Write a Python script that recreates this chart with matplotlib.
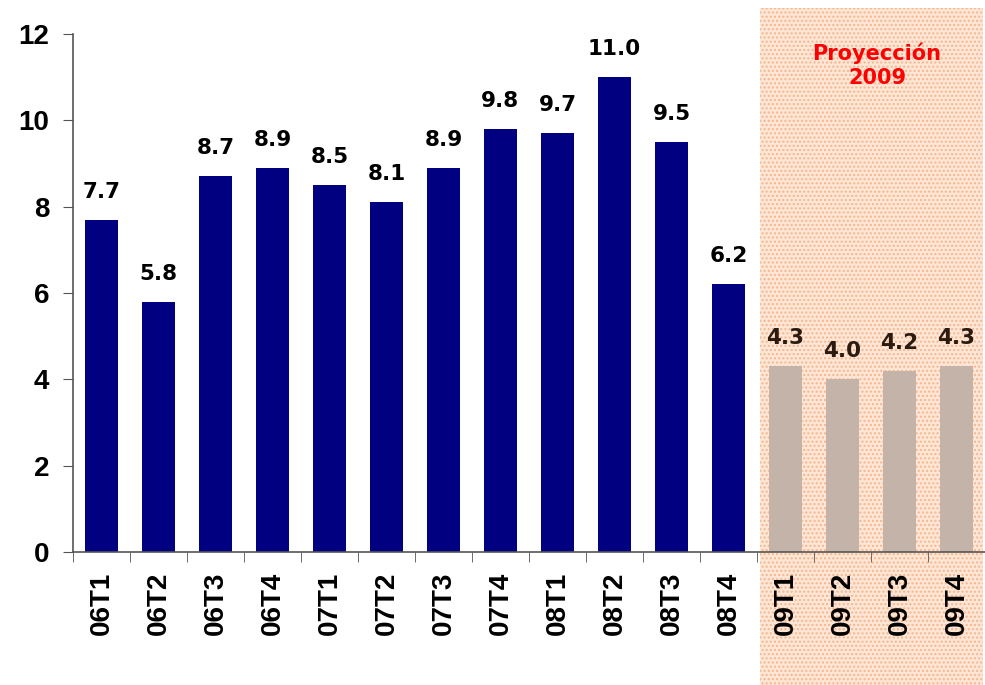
import matplotlib.pyplot as plt
from matplotlib.patches import Rectangle

# Quarterly data (historic + 2009 projection)
quarters = ['06T1', '06T2', '06T3', '06T4', '07T1', '07T2', '07T3', '07T4',
            '08T1', '08T2', '08T3', '08T4']
values = [7.7, 5.8, 8.7, 8.9, 8.5, 8.1, 8.9, 9.8, 9.7, 11.0, 9.5, 6.2]
proj_quarters = ['09T1', '09T2', '09T3', '09T4']
proj_values = [4.3, 4.0, 4.2, 4.3]
yticks = [0, 2, 4, 6, 8, 10, 12]

fig = plt.figure(figsize=(9.85, 6.85), dpi=100)
fig.patch.set_facecolor('white')

# shaded projection area (figure-level, covers the tick labels too)
shade = Rectangle((760 / 985, 0), 223 / 985, 1 - 8 / 685, transform=fig.transFigure,
                  facecolor='#fde6d6', edgecolor='#f7b58a', hatch='....',
                  linewidth=0, zorder=-1)
fig.patches.append(shade)

ax = fig.add_axes([73 / 985, 133 / 685, 912 / 985, 518 / 685])
ax.patch.set_visible(False)

labels = quarters + proj_quarters
x_hist = list(range(len(quarters)))
x_proj = list(range(len(quarters), len(labels)))

ax.bar(x_hist, values, width=0.58, color='#000080', zorder=2)
ax.bar(x_proj, proj_values, width=0.58, color='#c4b3a9', zorder=2)

for x, v in zip(x_hist, values):
    ax.annotate(f'{v:.1f}', (x, v), xytext=(0, 13), textcoords='offset points',
                ha='center', va='bottom', fontsize=15.5, fontweight='bold',
                family='DejaVu Sans', color='black')
for x, v in zip(x_proj, proj_values):
    ax.annotate(f'{v:.1f}', (x, v), xytext=(0, 13), textcoords='offset points',
                ha='center', va='bottom', fontsize=15.5, fontweight='bold',
                family='DejaVu Sans', color='#2a1a10')

ax.set_xlim(-0.5, len(labels) - 0.5)
ax.set_ylim(0, 12)
ax.set_yticks(yticks)
ax.set_yticklabels([str(t) for t in yticks], fontsize=20, fontweight='bold',
                   family='Liberation Sans')

ax.set_xticks(range(len(labels)))
ax.set_xticklabels(labels, rotation=90, fontsize=20, fontweight='bold',
                   family='Liberation Sans')
ax.set_xticks([i - 0.5 for i in range(len(labels))], minor=True)
ax.tick_params(axis='x', which='major', length=0, pad=14)
ax.tick_params(axis='x', which='minor', length=7, color='#555555', direction='out')
ax.tick_params(axis='y', length=7, color='#555555', direction='out', pad=10)

for side in ['top', 'right']:
    ax.spines[side].set_visible(False)
for side in ['left', 'bottom']:
    ax.spines[side].set_color('#555555')
    ax.spines[side].set_linewidth(1.2)

fig.text(877 / 985, 1 - 65 / 685, 'Proyección\n2009', ha='center', va='center',
         fontsize=15, fontweight='bold', color='#ff0000', linespacing=1.25)

fig.savefig('out.png', dpi=100)
